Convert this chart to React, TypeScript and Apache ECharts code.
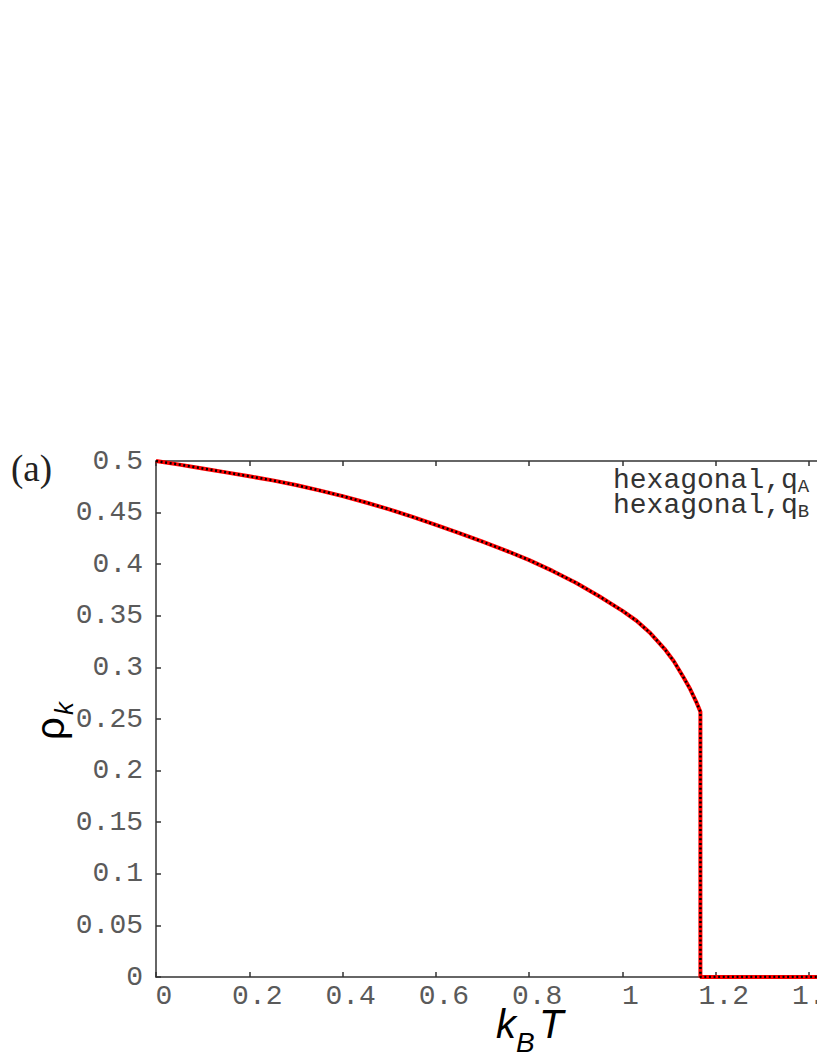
import React, { useEffect, useRef } from "react";
import * as echarts from "echarts";

// temperature k_B T
const temperatures = [
  0, 0.05, 0.1, 0.15, 0.2, 0.25, 0.3, 0.35, 0.4, 0.45, 0.5, 0.55, 0.6, 0.65, 0.7,
  0.75, 0.8, 0.85, 0.9, 0.95, 1.0, 1.03, 1.06, 1.09, 1.11, 1.13, 1.145, 1.158,
  1.167, 1.167, 1.2, 1.4, 1.6, 1.8, 2.0,
];
// order parameter rho_k, hexagonal q_A
const rhoA = [
  0.5, 0.4965, 0.4928, 0.489, 0.4852, 0.4812, 0.4767, 0.4715, 0.466, 0.4598,
  0.4532, 0.4458, 0.438, 0.4302, 0.4218, 0.4132, 0.404, 0.3935, 0.382, 0.369,
  0.3548, 0.3452, 0.333, 0.318, 0.306, 0.291, 0.279, 0.2667, 0.257,
  0, 0, 0, 0, 0, 0,
];
// order parameter rho_k, hexagonal q_B (coincides with q_A)
const rhoB = [
  0.5, 0.4965, 0.4928, 0.489, 0.4852, 0.4812, 0.4767, 0.4715, 0.466, 0.4598,
  0.4532, 0.4458, 0.438, 0.4302, 0.4218, 0.4132, 0.404, 0.3935, 0.382, 0.369,
  0.3548, 0.3452, 0.333, 0.318, 0.306, 0.291, 0.279, 0.2667, 0.257,
  0, 0, 0, 0, 0, 0,
];
const seriesNames = ["hexagonal,q_A", "hexagonal,q_B"];
const xTicks = { min: 0, max: 2, interval: 0.2 };
const yTicks = { min: 0, max: 0.5, interval: 0.05 };

const MONO = "'Liberation Mono', 'DejaVu Sans Mono', monospace";
const SANS = "'Liberation Sans', Arial, sans-serif";

export default function App() {
  const ref = useRef<HTMLDivElement>(null);
  useEffect(() => {
    if (!ref.current) return;
    const chart = echarts.init(ref.current, null, { renderer: "svg" });
    const axisColor = "#333";
    const labelColor = "#5a5a5a";
    const baseX = {
      type: "value" as const,
      min: xTicks.min,
      max: xTicks.max,
      interval: xTicks.interval,
      splitLine: { show: false },
      axisLine: { show: true, onZero: false, lineStyle: { color: axisColor, width: 1.5 } },
      axisTick: { show: true, inside: true, length: 5, lineStyle: { color: axisColor, width: 1.5 } },
    };
    const baseY = {
      type: "value" as const,
      min: yTicks.min,
      max: yTicks.max,
      interval: yTicks.interval,
      splitLine: { show: false },
      axisLine: { show: true, onZero: false, lineStyle: { color: axisColor, width: 1.5 } },
      axisTick: { show: true, inside: true, length: 5, lineStyle: { color: axisColor, width: 1.5 } },
    };
    const dataA = temperatures.map((t, i) => [t, rhoA[i]]);
    const dataB = temperatures.map((t, i) => [t, rhoB[i]]);
    const legendFont = `28px ${MONO}`;
    const subFont = `19px ${MONO}`;
    chart.setOption({
      animation: false,
      backgroundColor: "#fff",
      grid: { left: 156, top: 461, width: 933, height: 516, show: false },
      xAxis: [
        {
          ...baseX,
          position: "bottom",
          axisLabel: {
            show: true,
            margin: 5,
            color: labelColor,
            fontFamily: MONO,
            fontSize: 28,
            padding: [0, 0, 0, 16],
            formatter: (v: number) => String(Math.round(v * 10) / 10),
          },
        },
        { ...baseX, position: "top", axisLabel: { show: false } },
      ],
      yAxis: [
        {
          ...baseY,
          position: "left",
          axisLabel: {
            show: true,
            margin: 13,
            color: labelColor,
            fontFamily: MONO,
            fontSize: 28,
            formatter: (v: number) => String(Math.round(v * 100) / 100),
          },
        },
        { ...baseY, position: "right", axisLabel: { show: false } },
      ],
      series: [
        {
          name: seriesNames[0],
          type: "line",
          data: dataA,
          showSymbol: false,
          symbol: "none",
          lineStyle: { color: "#ff0000", width: 4 },
          z: 2,
        },
        {
          name: seriesNames[1],
          type: "line",
          data: dataB,
          showSymbol: false,
          symbol: "none",
          lineStyle: { color: "#000", width: 2.5, type: [2, 2.6], cap: "butt" },
          z: 3,
        },
      ],
      graphic: [
        {
          type: "text",
          x: 11,
          y: 468,
          style: { text: "(a)", font: "37px 'Liberation Serif', 'Times New Roman', serif", fill: "#222", verticalAlign: "middle" },
        },
        {
          type: "text",
          x: 613,
          y: 480,
          style: { text: "hexagonal,q", font: legendFont, lineHeight: 22, fill: "#333", verticalAlign: "middle" },
        },
        {
          type: "text",
          x: 613 + 11 * 16.8,
          y: 487,
          style: { text: "A", font: subFont, lineHeight: 16, fill: "#333", verticalAlign: "middle" },
        },
        {
          type: "text",
          x: 613,
          y: 505,
          style: { text: "hexagonal,q", font: legendFont, lineHeight: 22, fill: "#333", verticalAlign: "middle" },
        },
        {
          type: "text",
          x: 613 + 11 * 16.8,
          y: 512,
          style: { text: "B", font: subFont, lineHeight: 16, fill: "#333", verticalAlign: "middle" },
        },
        // y axis name: rho_k (rotated)
        {
          type: "text",
          x: 50,
          y: 740,
          rotation: Math.PI / 2,
          style: { text: "ρ", font: `40px ${SANS}`, fill: "#000", verticalAlign: "middle", align: "left" },
        },
        {
          type: "text",
          x: 64,
          y: 715,
          rotation: Math.PI / 2,
          style: { text: "k", font: `italic 26px ${SANS}`, fill: "#000", verticalAlign: "middle", align: "left" },
        },
        // x axis name: k_B T
        {
          type: "text",
          x: 496,
          y: 1024,
          style: { text: "k", font: `italic 40px ${SANS}`, fill: "#000", verticalAlign: "middle", align: "left" },
        },
        {
          type: "text",
          x: 516,
          y: 1042,
          style: { text: "B", font: `italic 28px ${SANS}`, fill: "#000", verticalAlign: "middle", align: "left" },
        },
        {
          type: "text",
          x: 539,
          y: 1024,
          style: { text: "T", font: `italic 40px ${SANS}`, fill: "#000", verticalAlign: "middle", align: "left" },
        },
      ],
    });
    return () => chart.dispose();
  }, []);
  return (
    <div style={{ position: "absolute", left: 0, top: 0, width: 817, height: 1058, overflow: "hidden", background: "#fff" }}>
      <div ref={ref} style={{ width: 1200, height: 1058 }} />
    </div>
  );
}
